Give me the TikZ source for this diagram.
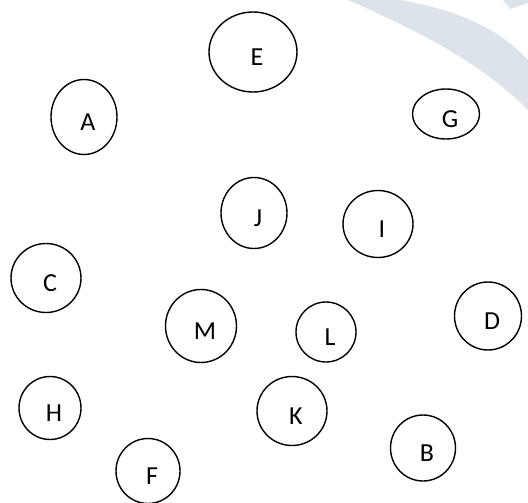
\documentclass[tikz,border=0pt]{standalone}
\usepackage{fontspec}
\setmainfont{Carlito}
\usepackage{xcolor}
\usepackage{tikz}
\usetikzlibrary{shapes.geometric}
\definecolor{markgray}{HTML}{DDE3EA}
\definecolor{ink}{HTML}{000000}

\begin{document}
\begin{tikzpicture}[x=1pt, y=-1pt,
  blob/.style={ellipse, draw=ink, line width=1.4pt, fill=white, inner sep=0pt, font=\fontsize{26pt}{28pt}\selectfont,
    text height=27pt, text depth=0pt, execute at begin node={\hspace*{8pt}}},
  swoosh/.style={fill=markgray, draw=none}]
\useasboundingbox (0,0) rectangle (528,503);
\path[swoosh] (348,0) .. controls (420,32) and (480,62) .. (528,110) -- (528,60) .. controls (500,30) and (460,10) .. (400,0) -- cycle;
\path[swoosh] (503,0) -- (510,9) -- (528,3) -- (528,0) -- cycle;
\node[blob, minimum width=88, minimum height=80] (E) at (253,52) {E};
\node[blob, minimum width=66, minimum height=75] (A) at (84,117) {A};
\node[blob, minimum width=67, minimum height=50] (G) at (446,114) {G};
\node[blob, minimum width=66, minimum height=71] (J) at (254,213) {J};
\node[blob, minimum width=70, minimum height=67] (I) at (378,224) {I};
\node[blob, minimum width=70, minimum height=69] (C) at (46,278) {C};
\node[blob, minimum width=71, minimum height=73] (M) at (201,326) {M};
\node[blob, minimum width=60, minimum height=60] (L) at (326,332) {L};
\node[blob, minimum width=67, minimum height=68] (D) at (488,316) {D};
\node[blob, minimum width=62, minimum height=63] (H) at (50,408) {H};
\node[blob, minimum width=70, minimum height=69] (K) at (292,411) {K};
\node[blob, minimum width=65, minimum height=66] (B) at (423,448) {B};
\node[blob, minimum width=64, minimum height=65] (F) at (148,471) {F};
\end{tikzpicture}
\end{document}
